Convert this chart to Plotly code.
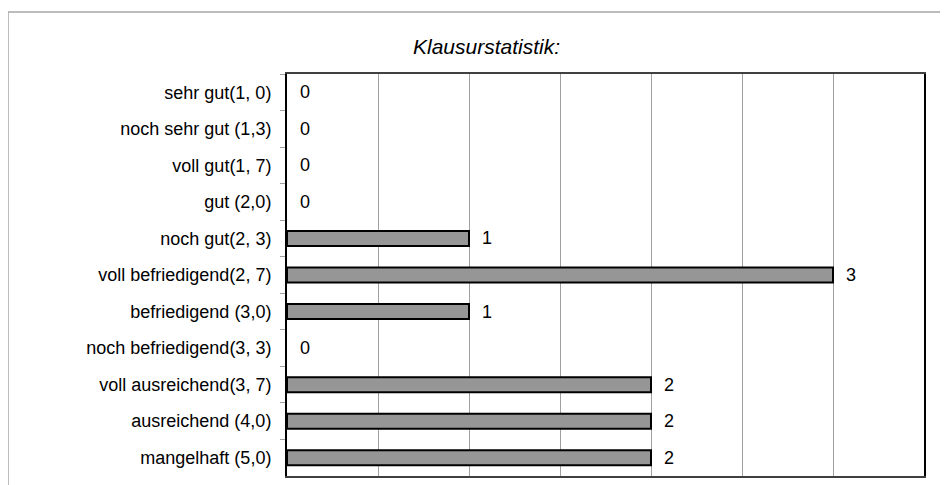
import plotly.graph_objects as go

categories = [
    "sehr gut(1, 0)",
    "noch sehr gut (1,3)",
    "voll gut(1, 7)",
    "gut (2,0)",
    "noch gut(2, 3)",
    "voll befriedigend(2, 7)",
    "befriedigend (3,0)",
    "noch befriedigend(3, 3)",
    "voll ausreichend(3, 7)",
    "ausreichend (4,0)",
    "mangelhaft (5,0)",
]
counts = [0, 0, 0, 0, 1, 3, 1, 0, 2, 2, 2]
title_text = "Klausurstatistik:"

# page body has an 8px default margin; work in window coordinates
OFF = 8
WIN_W, WIN_H = 948, 485
W, H = WIN_W - OFF, WIN_H - OFF
L, R, T, B = 287 - OFF, WIN_W - 924, 74 - OFF, WIN_H - 476
pw = W - L - R
ph = H - T - B

def px(xw):
    return (xw - OFF - L) / pw

def py(yw):
    return (H - B - (yw - OFF)) / ph

fig = go.Figure()
fig.add_trace(go.Bar(
    x=counts, y=categories, orientation="h",
    marker=dict(color="#969696",
                line=dict(color="black", width=[2 if v > 0 else 0 for v in counts])),
    hoverinfo="skip",
))

for c, v in zip(categories, counts):
    fig.add_annotation(x=v, y=c, xref="x", yref="y", text=str(v),
                       showarrow=False, xanchor="left", xshift=11,
                       font=dict(family="Liberation Sans, Arial", size=18, color="black"))

fig.add_annotation(x=px(486), y=py(47), xref="paper", yref="paper",
                   text="<i>" + title_text + "</i>", showarrow=False,
                   xanchor="center", yanchor="middle",
                   font=dict(family="Liberation Sans, Arial", size=21, color="black"))

# outer chart frame (partially visible)
fig.add_shape(type="line", xref="paper", yref="paper",
              x0=px(8), y0=py(12), x1=px(WIN_W + 5), y1=py(12),
              line=dict(color="#a6a6a6", width=1.5))
fig.add_shape(type="line", xref="paper", yref="paper",
              x0=px(8), y0=py(12), x1=px(8), y1=py(WIN_H + 5),
              line=dict(color="#a6a6a6", width=1.5))

fig.update_layout(
    width=W, height=H,
    margin=dict(l=L, r=R, t=T, b=B, pad=0),
    paper_bgcolor="white", plot_bgcolor="white",
    bargap=0.59, showlegend=False,
    font=dict(family="Liberation Sans, Arial", size=18, color="black"),
)
fig.update_xaxes(range=[0, 3.5], dtick=0.5, showgrid=True, gridcolor="#a0a0a0",
                 gridwidth=1, showticklabels=False, ticks="", zeroline=False,
                 showline=True, linecolor="#404040", linewidth=2, mirror=True,
                 fixedrange=True)
fig.update_yaxes(autorange="reversed", type="category", tickson="boundaries",
                 ticks="outside", ticklen=5, tickcolor="#a0a0a0", tickwidth=1,
                 showgrid=False, showline=True, linecolor="black", linewidth=2,
                 mirror=True, ticklabelstandoff=10,
                 tickfont=dict(family="Liberation Sans, Arial", size=18, color="black"),
                 fixedrange=True)

fig.write_html("out.html", config={"displayModeBar": False})
